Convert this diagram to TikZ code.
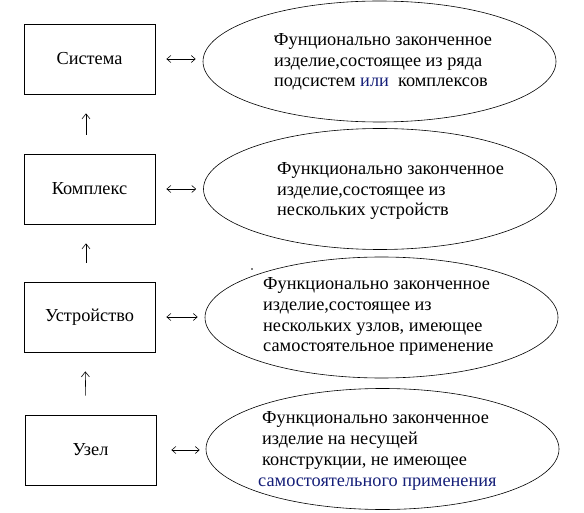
\documentclass[tikz,border=0pt]{standalone}
\usepackage{fontspec}
\setmainfont{Liberation Serif}
\usepackage{xcolor}
\usetikzlibrary{arrows.meta,shapes.geometric}

\definecolor{inkblue}{RGB}{20,30,120}

\begin{document}
\begin{tikzpicture}[
  x=1pt, y=-1pt,
  font=\fontsize{18.3}{20.7}\selectfont,
  level/.style={draw, line width=0.8pt, minimum width=131pt, minimum height=70pt, inner sep=0pt},
  oval/.style={draw, ellipse, line width=0.6pt, minimum width=353pt, minimum height=121pt, inner sep=0pt},
  descr/.style={align=left, inner sep=0pt, anchor=base west},
  speck/.style={circle, fill, inner sep=0pt, minimum size=1.6pt},
  uparrow/.style={-{Straight Barb[length=5pt,width=8pt]}, line width=0.6pt, shorten <=19pt, shorten >=19pt},
  link/.style={{Straight Barb[length=4pt,width=7pt]}-{Straight Barb[length=4pt,width=7pt]}, line width=0.6pt, shorten <=11pt, shorten >=7pt}
]
\useasboundingbox (0,0) rectangle (584,513);

% levels
\node[level] (sys) at (89.5,59) {Система};
\node[level] (cplx) at (89.5,189) {Комплекс};
\node[level] (dev) at (89.5,317) {Устройство};
\node[level] (unit) at (90.5,450) {Узел};

% descriptions (anchored at the last line)
\node[oval] (sysd) at (379.5,61.5) {};
\node[oval] (cplxd) at (380,189) {};
\node[oval] (devd) at (381.5,317.5) {};
\node[oval] (unitd) at (382.5,449) {};

\node[descr] (systxt) at (274,87) {Фунционально законченное\\изделие,состоящее из ряда\\подсистем {\color{inkblue}или}\ \ комплексов};
\node[descr] (cplxtxt) at (277,216) {Функционально законченное\\изделие,состоящее из\\нескольких устройств};
\node[descr] (devtxt) at (263,352) {Функционально законченное\\изделие,состоящее из\\нескольких узлов, имеющее\\самостоятельное применение};
\node[descr] (unittxt) at (262,486) {Функционально законченное\\изделие на несущей\\конструкции, не имеющее\\\hspace*{-4pt}{\color{inkblue}самостоятельного применения}};

\node[speck] (speck1) at (275,36) {};
\node[speck] (speck2) at (252,269) {};

% hierarchy
\draw[uparrow] ([xshift=-3.5pt]cplx.north) -- ([xshift=-3.5pt]sys.south);
\draw[uparrow] ([xshift=-3.5pt]dev.north) -- ([xshift=-3.5pt]cplx.south);
\draw[uparrow] ([xshift=-4.5pt]unit.north) -- ([xshift=-4.5pt]dev.south);

% box <-> description
\draw[link] (sys.east) -- (sys.east -| sysd.west);
\draw[link] (cplx.east) -- (cplx.east -| cplxd.west);
\draw[link] (dev.east) -- (dev.east -| devd.west);
\draw[link, shorten <=15pt, shorten >=6pt] (unit.east) -- (unit.east -| unitd.west);
\end{tikzpicture}
\end{document}
